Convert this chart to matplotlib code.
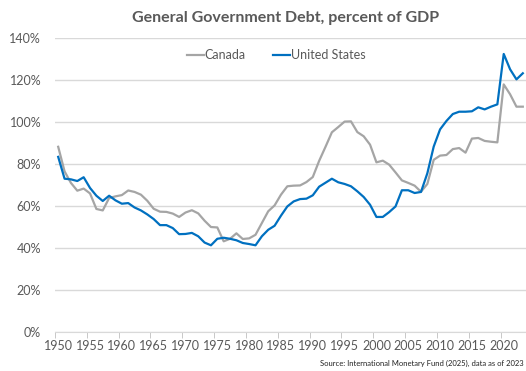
import numpy as np
import matplotlib
matplotlib.use('Agg')
import matplotlib.pyplot as plt
from matplotlib import rcParams

rcParams['font.family'] = ['Lato', 'DejaVu Sans']

years = np.arange(1950, 2024)

canada = [88.2, 76.5, 71.0, 67.3, 68.3, 66.0, 58.6, 57.9, 63.8, 64.6,
          65.2, 67.4, 66.7, 65.4, 62.5, 58.7, 57.3, 57.2, 56.4, 54.8,
          56.9, 58.0, 56.5, 53.0, 50.0, 49.8, 43.2, 44.4, 47.0, 44.3,
          44.6, 46.3, 51.9, 57.5, 60.3, 65.4, 69.4, 69.7, 69.8, 71.4,
          73.8, 81.5, 88.2, 95.1, 97.6, 100.2, 100.3, 95.2, 93.2, 89.2,
          80.8, 81.6, 79.7, 76.0, 72.2, 71.0, 69.7, 66.8, 70.5, 82.0,
          84.0, 84.3, 87.1, 87.6, 85.4, 92.1, 92.4, 91.0, 90.6, 90.3,
          117.9, 113.2, 107.3, 107.3]

united_states = [83.4, 73.0, 72.7, 71.9, 73.7, 68.6, 64.9, 62.4, 64.9, 62.7,
                 61.1, 61.4, 59.3, 57.9, 56.0, 53.8, 50.9, 50.9, 49.5, 46.6,
                 46.7, 47.2, 45.6, 42.6, 41.3, 44.4, 44.9, 44.4, 43.7, 42.4,
                 41.9, 41.3, 45.6, 48.7, 50.6, 55.4, 59.8, 62.2, 63.3, 63.5,
                 65.1, 69.2, 71.1, 73.0, 71.3, 70.5, 69.4, 67.0, 64.3, 60.6,
                 54.8, 54.8, 57.1, 59.8, 67.5, 67.5, 66.2, 66.7, 75.6, 88.3,
                 96.5, 100.5, 103.8, 104.9, 104.9, 105.1, 107.0, 106.0, 107.3, 108.4,
                 132.4, 125.1, 120.3, 123.2]

year_labels = list(range(1950, 2021, 5))
pct_ticks = list(range(0, 141, 20))

text_grey = '#595959'

fig = plt.figure(figsize=(5.26, 3.71), dpi=100)
ax = fig.add_axes([0.1046, 0.105, 0.8954, 0.7926])

ax.plot(years, canada, color='#a5a5a5', lw=1.6, label='Canada', solid_joinstyle='round')
ax.plot(years, united_states, color='#0070c0', lw=1.6, label='United States', solid_joinstyle='round')

ax.set_xlim(1949.5, 2023.5)
ax.set_ylim(0, 140)
ax.set_yticks(pct_ticks)
ax.set_yticklabels(['{}%'.format(p) for p in pct_ticks])
ax.set_xticks(year_labels)
ax.set_xticks(np.arange(1949.5, 2024, 5), minor=True)
ax.tick_params(axis='x', which='major', length=0, pad=6, labelsize=9, labelcolor=text_grey)
ax.tick_params(axis='x', which='minor', length=4, color='#bfbfbf', direction='out')
ax.tick_params(axis='y', length=0, pad=10, labelsize=9, labelcolor=text_grey)

ax.grid(axis='y', color='#d9d9d9', lw=1)
ax.set_axisbelow(True)
for s in ['top', 'right', 'left']:
    ax.spines[s].set_visible(False)
ax.spines['bottom'].set_color('#d9d9d9')

ax.legend(loc='center', bbox_to_anchor=(0.47, 0.942), ncol=2, frameon=False,
          fontsize=9, labelcolor=text_grey, handlelength=1.3, handletextpad=0.1,
          columnspacing=2.2)

fig.text(0.542, 0.952, 'General Government Debt, percent of GDP', ha='center', va='center',
         fontsize=11.5, fontweight='bold', color=text_grey)
fig.text(0.995, 0.012, 'Source: International Monetary Fund (2025), data as of 2023',
         ha='right', va='bottom', fontsize=5.5, color='#222222')

fig.savefig('out.png', dpi=100)
